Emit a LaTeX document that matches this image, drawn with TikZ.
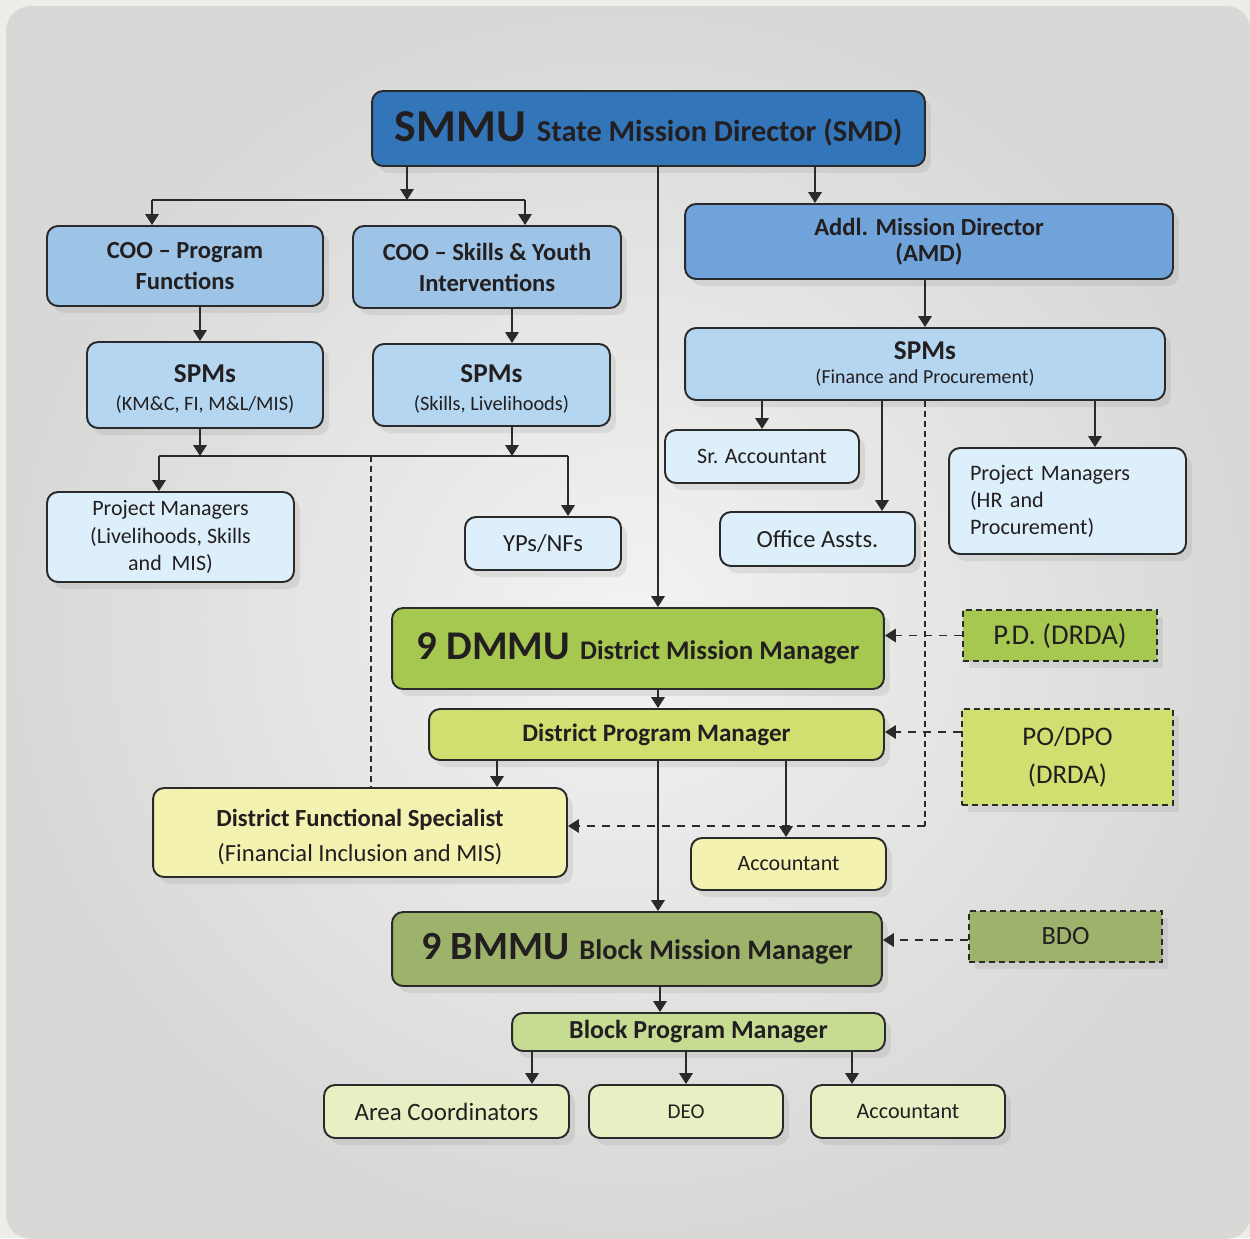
\documentclass[tikz,border=0pt]{standalone}
\usepackage{fontspec}
\setmainfont{Carlito}
\usetikzlibrary{arrows.meta,shadows,calc}
\definecolor{outerbg}{HTML}{EEEDE7}
\definecolor{bgin}{HTML}{F3F3F3}
\definecolor{bgout}{HTML}{D8D8D7}
\definecolor{txt}{HTML}{231F20}
\definecolor{boxline}{HTML}{2A2A2A}
\definecolor{cSMMU}{HTML}{3375B9}
\definecolor{cAMD}{HTML}{6FA3D9}
\definecolor{cCOO}{HTML}{9DC3E6}
\definecolor{cSPM}{HTML}{B5D6F0}
\definecolor{cLB}{HTML}{DDEFFA}
\definecolor{cDMMU}{HTML}{A6C850}
\definecolor{cDPM}{HTML}{D1DF70}
\definecolor{cDFS}{HTML}{F3F2B0}
\definecolor{cBMMU}{HTML}{9DB36B}
\definecolor{cBPM}{HTML}{C5DC92}
\definecolor{cLG}{HTML}{E6F0C2}
\newcommand{\fsz}[2]{\fontsize{#1}{#2}\selectfont}
\tikzset{
  box/.style={draw=boxline, line width=1.1pt, rounded corners=0.22cm, align=center, text=txt, inner sep=2pt,
    drop shadow={shadow xshift=0.12cm, shadow yshift=-0.14cm, opacity=0.16}},
  dbox/.style={draw=boxline, line width=1.1pt, dash pattern=on 0.12cm off 0.08cm, align=center, text=txt, inner sep=2pt,
    drop shadow={shadow xshift=0.12cm, shadow yshift=-0.14cm, opacity=0.16}},
  conn/.style={line width=1.1pt, draw=boxline},
  arr/.style={conn, -{Triangle[length=0.22cm,width=0.27cm]}},
  darr/.style={arr, dash pattern=on 0.16cm off 0.14cm},
  dline/.style={draw=boxline, line width=0.8pt, dash pattern=on 0.12cm off 0.08cm},
}
\begin{document}
\begin{tikzpicture}[x=0.02cm,y=-0.02cm]
\useasboundingbox (0,0) rectangle (1250,1238);
\clip (0,0) rectangle (1250,1238);
\fill[outerbg] (0,0) rectangle (1250,1238);
\shade[rounded corners=0.5cm, inner color=bgin, outer color=bgout] (6,6) rectangle (1251,1239);

% ---------- nodes ----------
\node[box, fill=cSMMU, minimum width=11.06cm, minimum height=1.5cm] (smmu) at (648.5,128.5)
  {{\fsz{26}{30}\bfseries SMMU}\hspace{0.22cm}{\fsz{17.3}{20}\bfseries State Mission Director (SMD)}};
\node[box, fill=cCOO, minimum width=5.52cm, minimum height=1.6cm, font=\fsz{14}{17.6}\bfseries] (coo1) at (185,266)
  {COO – Program\\Functions};
\node[box, fill=cCOO, minimum width=5.36cm, minimum height=1.64cm, font=\fsz{14}{17.6}\bfseries] (coo2) at (487,267)
  {COO – Skills \& Youth\\Interventions};
\node[box, fill=cAMD, minimum width=9.76cm, minimum height=1.5cm, font=\fsz{14}{15}\bfseries] (amd) at (929,241.5)
  {Addl. Mission Director\\(AMD)};
\node[box, fill=cSPM, minimum width=4.72cm, minimum height=1.72cm] (spm1) at (205,385)
  {{\fsz{15.5}{16}\bfseries \rule{0pt}{15.2pt}SPMs}\\[3.9pt]{\fsz{11.6}{13}(KM\&C, FI, M\&L/MIS)}};
\node[box, fill=cSPM, minimum width=4.74cm, minimum height=1.64cm] (spm2) at (491.5,385)
  {{\fsz{15.5}{16}\bfseries \rule{0pt}{15.2pt}SPMs}\\[3.9pt]{\fsz{11.6}{13}(Skills, Livelihoods)}};
\node[box, fill=cSPM, minimum width=9.6cm, minimum height=1.44cm] (spm3) at (925,364)
  {{\fsz{15.5}{16}\bfseries SPMs}\\[2pt]{\fsz{11.3}{13}(Finance and Procurement)}};
\node[box, fill=cLB, minimum width=4.94cm, minimum height=1.8cm, font=\fsz{12.5}{15.5}] (pm1) at (170.5,537)
  {Project Managers\\(Livelihoods, Skills\\and\ \ MIS)};
\node[box, fill=cLB, minimum width=3.12cm, minimum height=1.06cm, font=\fsz{14}{16}] (yps) at (543,543.5) {YPs/NFs};
\node[box, fill=cLB, minimum width=3.88cm, minimum height=1.06cm, font=\fsz{12.5}{15}] (sracc) at (762,456.5) {Sr. Accountant};
\node[box, fill=cLB, minimum width=3.9cm, minimum height=1.08cm, font=\fsz{14}{16}] (office) at (817.5,539) {Office Assts.};
\node[box, fill=cLB, minimum width=4.74cm, minimum height=2.12cm, font=\fsz{12.6}{15.4}, align=left, text width=3.9cm] (pmhr) at (1067.5,501)
  {Project Managers\\(HR and\\Procurement)};

\node[box, fill=cDMMU, minimum width=9.84cm, minimum height=1.62cm] (dmmu) at (638,648.5)
  {{\fsz{23.2}{27}\bfseries 9 DMMU}\hspace{0.2cm}{\fsz{15.3}{18}\bfseries District Mission Manager}};
\node[dbox, fill=cDMMU, minimum width=3.88cm, minimum height=1.02cm, font=\fsz{16.3}{18}] (pd) at (1060,635.5) {P.D. (DRDA)};
\node[box, fill=cDPM, minimum width=9.1cm, minimum height=1.02cm, font=\fsz{14.3}{16}\bfseries] (dpm) at (656.5,734.5) {District Program Manager};
\node[dbox, fill=cDPM, minimum width=4.22cm, minimum height=1.92cm, font=\fsz{15.3}{21.5}] (podpo) at (1067.5,757) {PO/DPO\\(DRDA)};
\node[box, fill=cDFS, minimum width=8.28cm, minimum height=1.78cm] (dfs) at (360,832.5)
  {{\fsz{14}{16}\bfseries \rule{0pt}{15.3pt}District Functional Specialist}\\[6.3pt]{\fsz{14}{16}(Financial Inclusion and MIS)}};
\node[box, fill=cDFS, minimum width=3.9cm, minimum height=1.04cm, font=\fsz{12.5}{15}] (acc1) at (788.5,864) {Accountant};

\node[box, fill=cBMMU, minimum width=9.8cm, minimum height=1.48cm] (bmmu) at (637,949)
  {{\fsz{22.8}{27}\bfseries 9 BMMU}\hspace{0.2cm}{\fsz{16.1}{19}\bfseries Block Mission Manager}};
\node[dbox, fill=cBMMU, minimum width=3.86cm, minimum height=1.02cm, font=\fsz{15}{18}] (bdo) at (1065.5,936.5) {BDO};
\node[box, fill=cBPM, minimum width=7.46cm, minimum height=0.76cm, font=\fsz{14.8}{16}\bfseries] (bpm) at (698.5,1032) {Block Program Manager};
\node[box, fill=cLG, minimum width=4.9cm, minimum height=1.06cm, font=\fsz{14.2}{16}] (ac) at (446.5,1111.5) {Area Coordinators};
\node[box, fill=cLG, minimum width=3.88cm, minimum height=1.06cm, font=\fsz{12}{15}] (deo) at (686,1111.5) {DEO};
\node[box, fill=cLG, minimum width=3.88cm, minimum height=1.06cm, font=\fsz{12.6}{15}] (acc2) at (908,1111.5) {Accountant};

% ---------- junction coordinates ----------
\coordinate (b1M) at (407,200);
\coordinate (b1L) at (152,200);
\coordinate (b1R) at (525,200);
\coordinate (vMain) at (658,400);
\coordinate (vAMD) at (815,200);
\coordinate (vCOO1) at (200,320);
\coordinate (vCOO2) at (512,320);
\coordinate (vSPM3) at (925,300);
\coordinate (b2A) at (200,456);
\coordinate (b2B) at (512,456);
\coordinate (b2L) at (159,456);
\coordinate (b2R) at (568,456);
\coordinate (b2D) at (371,456);
\coordinate (vSr) at (762,420);
\coordinate (vOf) at (882,420);
\coordinate (vPm) at (1095,420);
\coordinate (dTop) at (925,400);
\coordinate (dCorner) at (925,826);
\coordinate (vDfs) at (497,770);
\coordinate (vAcc) at (786,770);
\coordinate (vBpm) at (660,1000);
\coordinate (vAc) at (532,1060);
\coordinate (vDeo) at (686,1060);
\coordinate (vAcc2) at (852,1060);

% ---------- connectors ----------
\draw[dline] (spm3.south -| dTop) -- (dCorner);
\draw[darr] (dCorner) -- (dCorner -| dfs.east);
\draw[dline] (b2D) -- (dfs.north -| b2D);

\draw[arr] (smmu.south -| b1M) -- (b1M);
\draw[conn] (b1L) -- (b1R);
\draw[arr] (b1L) -- (coo1.north -| b1L);
\draw[arr] (b1R) -- (coo2.north -| b1R);
\draw[arr] (smmu.south -| vMain) -- (dmmu.north -| vMain);
\draw[arr] (smmu.south -| vAMD) -- (amd.north -| vAMD);
\draw[arr] (coo1.south -| vCOO1) -- (spm1.north -| vCOO1);
\draw[arr] (coo2.south -| vCOO2) -- (spm2.north -| vCOO2);
\draw[arr] (amd.south -| vSPM3) -- (spm3.north -| vSPM3);
\draw[arr] (spm1.south -| b2A) -- (b2A);
\draw[arr] (spm2.south -| b2B) -- (b2B);
\draw[conn] (b2L) -- (b2R);
\draw[arr] (b2L) -- (pm1.north -| b2L);
\draw[arr] (b2R) -- (yps.north -| b2R);
\draw[arr] (spm3.south -| vSr) -- (sracc.north -| vSr);
\draw[arr] (spm3.south -| vOf) -- (office.north -| vOf);
\draw[arr] (spm3.south -| vPm) -- (pmhr.north -| vPm);

\draw[darr] (pd.west) -- (pd.west -| dmmu.east);
\draw[arr] (dmmu.south -| vMain) -- (dpm.north -| vMain);
\draw[darr] (podpo.west |- 0,732) -- (dpm.east |- 0,732);
\draw[arr] (dpm.south -| vDfs) -- (dfs.north -| vDfs);
\draw[arr] (dpm.south -| vMain) -- (bmmu.north -| vMain);
\draw[arr] (dpm.south -| vAcc) -- (acc1.north -| vAcc);

\draw[darr] (bdo.west |- 0,940) -- (bmmu.east |- 0,940);
\draw[arr] (bmmu.south -| vBpm) -- (bpm.north -| vBpm);
\draw[arr] (bpm.south -| vAc) -- (ac.north -| vAc);
\draw[arr] (bpm.south -| vDeo) -- (deo.north -| vDeo);
\draw[arr] (bpm.south -| vAcc2) -- (acc2.north -| vAcc2);
\end{tikzpicture}
\end{document}
